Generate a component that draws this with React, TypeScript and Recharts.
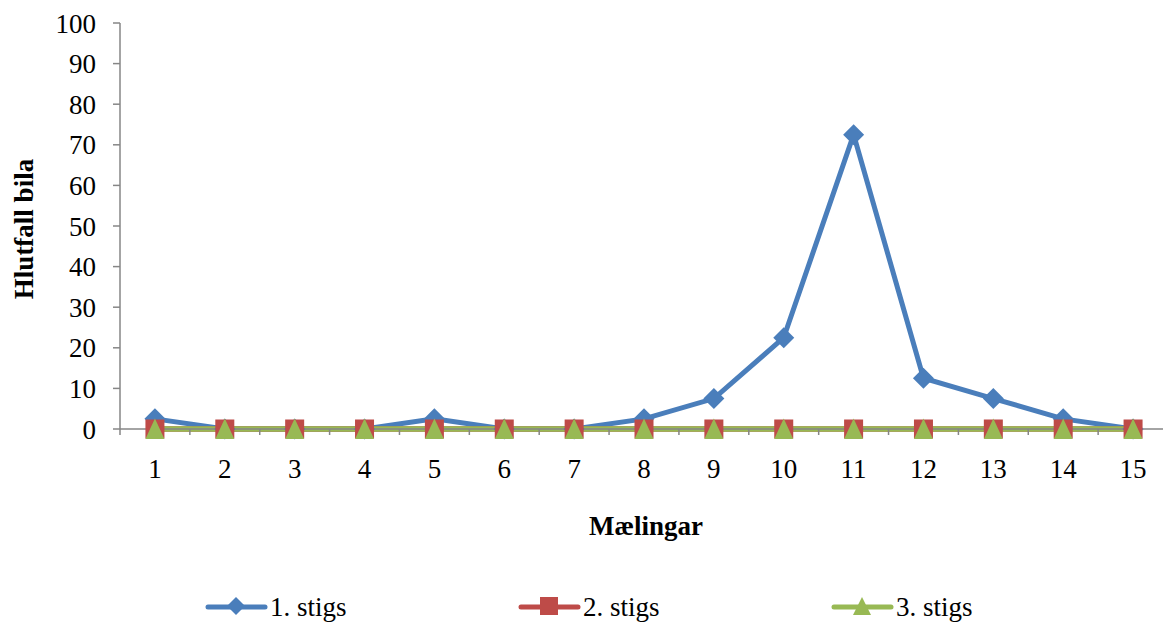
import React from 'react';
import { LineChart, Line, XAxis, YAxis, Legend, Label } from 'recharts';

const measurements = [1, 2, 3, 4, 5, 6, 7, 8, 9, 10, 11, 12, 13, 14, 15];
const stig1 = [2.5, 0, 0, 0, 2.5, 0, 0, 2.5, 7.5, 22.5, 72.5, 12.5, 7.5, 2.5, 0];
const stig2 = [0, 0, 0, 0, 0, 0, 0, 0, 0, 0, 0, 0, 0, 0, 0];
const stig3 = [0, 0, 0, 0, 0, 0, 0, 0, 0, 0, 0, 0, 0, 0, 0];
const yTicks = [0, 10, 20, 30, 40, 50, 60, 70, 80, 90, 100];
const seriesNames = ['1. stigs', '2. stigs', '3. stigs'];

const data = measurements.map((m, i) => ({
  m,
  s1: stig1[i],
  s2: stig2[i],
  s3: stig3[i],
}));

const PAGE_W = 1163;
const W = 1168;
const H = 626;
const MARGIN = { top: 23, right: 0, bottom: 0, left: 0 };
const Y_AXIS_W = 120;
const PLOT_W = W - MARGIN.left - MARGIN.right - Y_AXIS_W;
const HALF_STEP = PLOT_W / measurements.length / 2;

const BLUE = '#4A7EBB';
const RED = '#BE4B48';
const GREEN = '#98B954';
const AXIS = '#868686';
const FONT = '"Liberation Serif", "Times New Roman", serif';

const Diamond = (props: any) => {
  const { cx, cy } = props;
  if (cx == null || cy == null) return null;
  const r = 10.5;
  return <path d={`M${cx},${cy - r}L${cx + r},${cy}L${cx},${cy + r}L${cx - r},${cy}Z`} fill={BLUE} />;
};
const Square = (props: any) => {
  const { cx, cy } = props;
  if (cx == null || cy == null) return null;
  const r = 9.5;
  return <rect x={cx - r} y={cy - r} width={2 * r} height={2 * r} fill={RED} />;
};
const Triangle = (props: any) => {
  const { cx, cy } = props;
  if (cx == null || cy == null) return null;
  return <path d={`M${cx},${cy - 10.5}L${cx + 9.5},${cy + 10}L${cx - 9.5},${cy + 10}Z`} fill={GREEN} />;
};

const XTick = (props: any) => {
  const { x, y, payload } = props;
  const v = payload.value;
  return (
    <g>
      <line x1={x - HALF_STEP} x2={x - HALF_STEP} y1={y - 6} y2={y} stroke={AXIS} strokeWidth={1.5} />
      {v === measurements[measurements.length - 1] && (
        <line x1={x + HALF_STEP} x2={x + HALF_STEP} y1={y - 6} y2={y} stroke={AXIS} strokeWidth={1.5} />
      )}
      <text x={x} y={y + 43} textAnchor="middle" fontFamily={FONT} fontSize={27} fill="#000">
        {v}
      </text>
    </g>
  );
};

const YTitle = (props: any) => {
  const vb = props.viewBox || {};
  const cx = 24;
  const cy = vb.y + vb.height / 2 + 3;
  return (
    <text
      x={cx}
      y={cy}
      transform={`rotate(-90, ${cx}, ${cy})`}
      textAnchor="middle"
      dominantBaseline="central"
      fontFamily={FONT}
      fontWeight="bold"
      fontSize={27}
      fill="#000"
    >
      Hlutfall bila
    </text>
  );
};

const LegendContent = () => {
  const colors = [BLUE, RED, GREEN];
  const markers = [
    (c: number) => <path d={`M${c},597L${c + 9},606L${c},615L${c - 9},606Z`} fill={BLUE} />,
    (c: number) => <rect x={c - 9} y={597} width={18} height={18} fill={RED} />,
    (c: number) => <path d={`M${c},597L${c + 9},615L${c - 9},615Z`} fill={GREEN} />,
  ];
  return (
    <svg width={W} height={40} style={{ position: 'absolute', left: 0, top: 0, overflow: 'visible' }}>
      <g transform="translate(0,-586)">
        {seriesNames.map((n, i) => {
          const x0 = 208 + i * 313;
          return (
            <g key={n}>
              <line x1={x0} x2={x0 + 57} y1={607} y2={607} stroke={colors[i]} strokeWidth={5} strokeLinecap="round" />
              {markers[i](x0 + 28)}
              <text x={x0 + 62} y={616} fontFamily={FONT} fontSize={27} fill="#000">
                {n}
              </text>
            </g>
          );
        })}
      </g>
    </svg>
  );
};

export default function App() {
  return (
    <div style={{ position: 'absolute', left: 0, top: 0, width: PAGE_W, height: H, overflow: 'hidden', background: '#fff' }}>
      <LineChart width={W} height={H} data={data} margin={MARGIN}>
        <XAxis
          dataKey="m"
          type="number"
          domain={[0.5, 15.5]}
          ticks={measurements}
          allowDataOverflow
          interval={0}
          height={157}
          tickLine={false}
          tickSize={6}
          tickMargin={0}
          axisLine={{ stroke: AXIS, strokeWidth: 1.5 }}
          tick={<XTick />}
        >
          <Label
            value="Mælingar"
            position="insideBottom"
            offset={51}
            dx={2}
            style={{ fontFamily: FONT, fontWeight: 'bold', fontSize: 27, fill: '#000' }}
          />
        </XAxis>
        <YAxis
          domain={[0, 100]}
          ticks={yTicks}
          width={Y_AXIS_W}
          interval={0}
          tickSize={7}
          tickMargin={17}
          axisLine={{ stroke: AXIS, strokeWidth: 1.5 }}
          tickLine={{ stroke: AXIS, strokeWidth: 1.5 }}
          tick={{ fontFamily: FONT, fontSize: 27, fill: '#000' }}
        >
          <Label content={<YTitle />} />
        </YAxis>
        <Legend verticalAlign="bottom" height={40} content={<LegendContent />} wrapperStyle={{ height: 40 }} />
        <Line
          dataKey="s1"
          name={seriesNames[0]}
          stroke={BLUE}
          strokeWidth={5}
          dot={<Diamond />}
          activeDot={false}
          isAnimationActive={false}
        />
        <Line
          dataKey="s2"
          name={seriesNames[1]}
          stroke={RED}
          strokeWidth={5.5}
          dot={<Square />}
          activeDot={false}
          isAnimationActive={false}
        />
        <Line
          dataKey="s3"
          name={seriesNames[2]}
          stroke={GREEN}
          strokeWidth={5.5}
          dot={<Triangle />}
          activeDot={false}
          isAnimationActive={false}
        />
      </LineChart>
    </div>
  );
}
